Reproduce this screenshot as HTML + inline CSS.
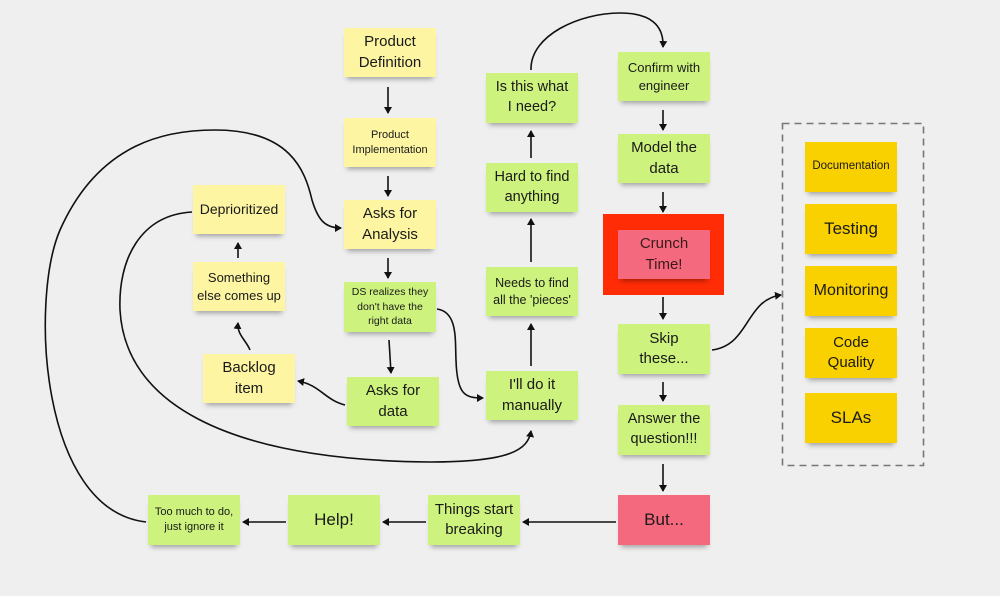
<!DOCTYPE html>
<html><head><meta charset="utf-8"><style>
body{margin:0;width:1000px;height:596px;background:#efefef;position:relative;overflow:hidden;font-family:"Liberation Sans",sans-serif;}
.n{position:absolute;width:92px;height:49px;display:flex;align-items:center;justify-content:center;text-align:center;color:#1a1a1a;font-size:15px;line-height:1.35;box-shadow:0 5px 5px -3px rgba(0,0,0,0.35);}
.y{background:#fdf5a2}.g{background:#cdf27d}.p{background:#f5697f}.o{background:#f9d000}
svg{position:absolute;left:0;top:0}
</style></head><body>
<div style="position:absolute;left:603px;top:214px;width:121px;height:81px;background:#ff2c06"></div>
<svg width="1000" height="596">
<defs><marker id="a" markerWidth="8" markerHeight="8" refX="6" refY="4" orient="auto" markerUnits="userSpaceOnUse"><path d="M0,0 L7,4 L0,8 z" fill="#111"/></marker></defs>
<rect x="782.5" y="123.5" width="141" height="342" fill="none" stroke="#777" stroke-width="1.6" stroke-dasharray="7,5"/>
<g stroke="#111" stroke-width="1.6" fill="none" marker-end="url(#a)">
<path d="M388,87 V113"/><path d="M388,176 V196"/><path d="M388,258 V278"/>
<path d="M146,522 C40,510 30,300 60,230 C100,140 170,130 215,130 C290,130 305,170 312,200 C318,220 325,228 341,228"/>
<path d="M192,212 C140,215 118,260 120,310 C125,400 220,460 430,462 C510,462 528,450 531,431"/>
<path d="M250,350 C246,340 237,335 238,323"/>
<path d="M238,258 V243"/>
<path d="M345,405 C325,400 320,385 298,381"/>
<path d="M389,340 L391,373"/>
<path d="M437,309 C458,312 455,340 456,360 C457,395 465,398 483,398"/>
<path d="M531,366 V324"/><path d="M531,262 V219"/><path d="M531,158 V131"/>
<path d="M531,70 C530,35 580,13 620,13 C650,13 664,25 663,47"/>
<path d="M663,110 V130"/><path d="M663,192 V212"/><path d="M663,297 V319"/><path d="M663,382 V401"/><path d="M663,464 V491"/>
<path d="M616,522 H523"/><path d="M426,522 H383"/><path d="M286,522 H243"/>
<path d="M712,350 C750,345 745,300 781,295"/>
</g></svg>
<div class="n y" style="left:344px;top:28px">Product<br>Definition</div>
<div class="n y" style="left:344px;top:118px;font-size:11px">Product<br>Implementation</div>
<div class="n y" style="left:344px;top:200px">Asks for<br>Analysis</div>
<div class="n g" style="left:344px;top:282px;height:50px;font-size:10.5px;line-height:1.4">DS realizes they<br>don't have the<br>right data</div>
<div class="n g" style="left:347px;top:377px">Asks for<br>data</div>
<div class="n y" style="left:193px;top:185px;font-size:14px">Deprioritized</div>
<div class="n y" style="left:193px;top:262px;font-size:13px">Something<br>else comes up</div>
<div class="n y" style="left:203px;top:354px">Backlog<br>item</div>
<div class="n g" style="left:486px;top:371px">I'll do it<br>manually</div>
<div class="n g" style="left:486px;top:267px;font-size:12.5px">Needs to find<br>all the 'pieces'</div>
<div class="n g" style="left:486px;top:163px;font-size:14.5px">Hard to find<br>anything</div>
<div class="n g" style="left:486px;top:73px;height:50px;font-size:14.5px">Is this what<br>I need?</div>
<div class="n g" style="left:618px;top:52px;font-size:13px">Confirm with<br>engineer</div>
<div class="n g" style="left:618px;top:134px">Model the<br>data</div>
<div class="n p" style="left:618px;top:230px;color:#3a1a1a">Crunch<br>Time!</div>
<div class="n g" style="left:618px;top:324px;height:50px">Skip<br>these...</div>
<div class="n g" style="left:618px;top:405px;height:50px;font-size:14.5px">Answer the<br>question!!!</div>
<div class="n p" style="left:618px;top:495px;height:50px;font-size:17px">But...</div>
<div class="n g" style="left:428px;top:495px;height:50px">Things start<br>breaking</div>
<div class="n g" style="left:288px;top:495px;height:50px;font-size:17px">Help!</div>
<div class="n g" style="left:148px;top:495px;height:50px;font-size:11px">Too much to do,<br>just ignore it</div>
<div class="n o" style="left:805px;top:142px;height:50px;font-size:11.5px">Documentation</div>
<div class="n o" style="left:805px;top:204px;height:50px;font-size:17px">Testing</div>
<div class="n o" style="left:805px;top:266px;height:50px;font-size:16px">Monitoring</div>
<div class="n o" style="left:805px;top:328px;height:50px">Code<br>Quality</div>
<div class="n o" style="left:805px;top:393px;height:50px;font-size:17px">SLAs</div>
</body></html>
